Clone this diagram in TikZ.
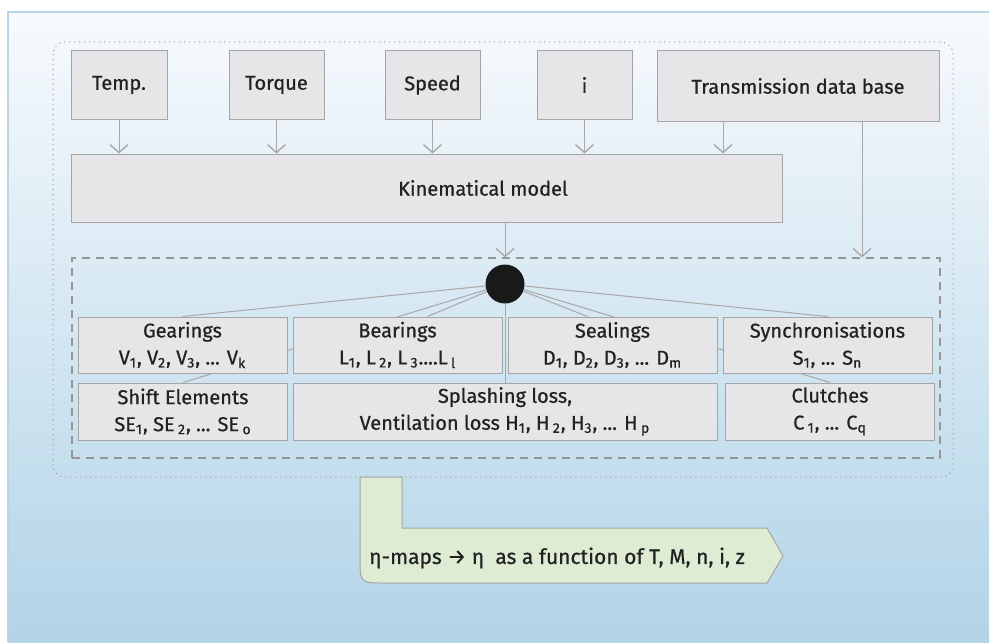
\documentclass[tikz,border=0pt]{standalone}
\usepackage{fontspec}
\setmainfont{Fira Sans}[FakeBold=0.7]
\usepackage{tikz}
\usetikzlibrary{arrows.meta, positioning, backgrounds, calc}
\definecolor{boxfill}{RGB}{230, 230, 232}
\definecolor{boxline}{RGB}{165, 165, 165}
\definecolor{arrowgray}{RGB}{168, 168, 168}
\definecolor{framegray}{RGB}{150, 150, 150}
\definecolor{bgtop}{RGB}{247, 250, 253}
\definecolor{bgbottom}{RGB}{178, 212, 231}
\definecolor{bgline}{RGB}{184, 212, 230}
\definecolor{resultfill}{RGB}{221, 236, 211}
\definecolor{textdark}{RGB}{34, 34, 34}

\begin{document}
\begin{tikzpicture}[x=0.5pt, y=-0.5pt,
    every node/.style={text=textdark, font={\fontsize{10}{13.5}\selectfont}},
    inbox/.style={draw=boxline, fill=boxfill, line width=0.5pt, inner sep=0pt, minimum height=34pt},
    lossbox/.style={draw=boxline, fill=boxfill, line width=0.5pt, inner sep=0pt, align=center, minimum width=104.5pt, minimum height=28pt},
    feed/.style={draw=arrowgray, line width=0.5pt, -{Straight Barb[length=4pt, width=9pt, line width=0.7pt]}},
    branch/.style={draw=arrowgray, line width=0.5pt}]
    \useasboundingbox (0,0) rectangle (989,642);

    % Background
    \begin{scope}[on background layer]
        \shade[top color=bgtop, bottom color=bgbottom] (8,12) rectangle (989,642);
        \draw[bgline, line width=0.6pt] (8,642) -- (8,12) -- (989,12);
        \draw[framegray, dotted, line width=0.5pt, rounded corners=6pt] (53,42) rectangle (953,477);
    \end{scope}

    % Inputs
    \node[inbox, minimum width=48pt] (temp) at (119, 85) {Temp.};
    \node[inbox, minimum width=47.5pt] (torque) at (276.5, 85) {Torque};
    \node[inbox, minimum width=47.5pt] (speed) at (432.5, 85) {Speed};
    \node[inbox, minimum width=47.5pt] (ratio) at (584.5, 85) {i};
    \node[inbox, minimum width=141pt, minimum height=35pt] (tdb) at (798, 86) {Transmission data base};

    % Kinematical model
    \node[inbox, minimum width=355.5pt] (kin) at (426.5, 188) {};
    \node (kintext) at (483, 188) {Kinematical model};

    \draw[feed] (temp) -- (temp |- kin.north);
    \draw[feed] (torque) -- (torque |- kin.north);
    \draw[feed] (speed) -- (speed |- kin.north);
    \draw[feed] (ratio) -- (ratio |- kin.north);
    \draw[feed] ([xshift=-37.5pt]tdb.south) -- ([xshift=-37.5pt]tdb.south |- kin.north);

    % Loss models
    \node[draw=framegray, dashed, dash pattern=on 4pt off 3pt, line width=0.6pt, inner sep=0pt,
          minimum width=434pt, minimum height=100pt] (losses) at (506, 358) {};
    \node[circle, fill=black!90, inner sep=0pt, minimum size=19.5pt] (hub) at (505, 284) {};

    \draw[feed] (kin.south -| hub) -- (losses.north -| hub);
    \draw[feed] ([xshift=32pt]tdb.south) -- ([xshift=32pt]tdb.south |- losses.north);

    \node[lossbox] (gear) at (182.5, 345) {Gearings\\V\textsubscript{1}, V\textsubscript{2}, V\textsubscript{3}, ... V\textsubscript{k}};
    \node[lossbox] (bear) at (397.5, 345) {Bearings\\L\textsubscript{1}, L\,\textsubscript{2}, L\,\textsubscript{3}....L\,\textsubscript{l}};
    \node[lossbox] (seal) at (612.5, 345) {Sealings\\D\textsubscript{1}, D\textsubscript{2}, D\textsubscript{3}, ... D\textsubscript{m}};
    \node[lossbox] (sync) at (827.5, 345) {Synchronisations\\S\textsubscript{1}, ... S\textsubscript{n}};

    \node[lossbox, minimum height=28.5pt] (shift) at (183, 411.5) {Shift Elements\\SE\textsubscript{1}, SE\,\textsubscript{2}, ... SE\,\textsubscript{o}};
    \node[lossbox, minimum width=212pt, minimum height=28.5pt] (splash) at (505, 411.5) {Splashing loss,\\Ventilation loss H\textsubscript{1}, H\,\textsubscript{2}, H\textsubscript{3}, ... H\,\textsubscript{p}};
    \node[lossbox, minimum height=28.5pt] (clutch) at (830, 411.5) {Clutches\\C\,\textsubscript{1}, ... C\textsubscript{q}};

    \begin{scope}[on background layer]
        \draw[branch] (hub) -- (gear.north);
        \draw[branch] (hub) -- ([xshift=15pt]bear.north);
        \draw[branch] (hub) -- ([xshift=-12.5pt]seal.north);
        \draw[branch] (hub) -- (sync.north);
        \draw[branch] (hub) -- (shift.north);
        \draw[branch] (hub) -- (splash.north);
        \draw[branch] (hub) -- (clutch.north);
    \end{scope}

    % Result
    \draw[boxline, fill=resultfill, line width=0.5pt]
        (360,477) -- (402,477) -- (402,528) -- (767,528) -- (783,556) -- (767,583)
        -- (385,583) .. controls (360,583) .. (360,558) -- cycle;
    \node[font={\fontsize{10.5}{12}\selectfont}] (etamap) at (557, 558) {η-maps → η \ as a function of T, M, n, i, z};
\end{tikzpicture}
\end{document}
